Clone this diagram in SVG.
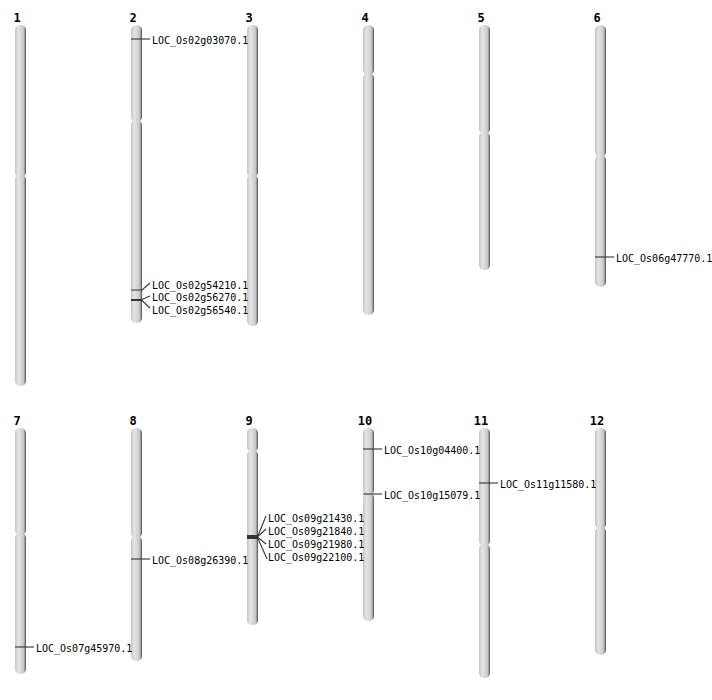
<svg xmlns="http://www.w3.org/2000/svg" width="712" height="700" viewBox="0 0 712 700">
<defs>
<linearGradient id="chr" x1="0" y1="0" x2="1" y2="0">
<stop offset="0" stop-color="#c4c4c4"/>
<stop offset="0.3" stop-color="#e4e4e4"/>
<stop offset="0.65" stop-color="#d2d2d2"/>
<stop offset="0.82" stop-color="#bdbdbd"/>
<stop offset="0.92" stop-color="#7a7a7a"/>
<stop offset="1" stop-color="#4a4a4a"/>
</linearGradient>
</defs>
<style>
.arm{fill:url(#chr)}
.num{font-family:"DejaVu Sans Mono","Liberation Mono",monospace;font-weight:bold;font-size:12px;fill:#000;text-anchor:middle}
.gene{font-family:"DejaVu Sans Mono","Liberation Mono",monospace;font-size:10px;fill:#000}
.lk{stroke:#333;stroke-width:1.1;fill:none}
</style>
<rect width="712" height="700" fill="#fff"/>
<g id="chr1"><text class="num" x="17" y="22">1</text><rect class="arm" x="15" y="25" width="11" height="152" rx="5" ry="5"/><rect class="arm" x="15" y="175" width="11" height="211" rx="5" ry="5"/></g>
<g id="chr2"><text class="num" x="133" y="22">2</text><rect class="arm" x="131" y="25" width="11" height="97" rx="5" ry="5"/><rect class="arm" x="131" y="120" width="11" height="203" rx="5" ry="5"/></g>
<g id="chr3"><text class="num" x="249" y="22">3</text><rect class="arm" x="247" y="25" width="11" height="152" rx="5" ry="5"/><rect class="arm" x="247" y="175" width="11" height="151" rx="5" ry="5"/></g>
<g id="chr4"><text class="num" x="365" y="22">4</text><rect class="arm" x="363" y="25" width="11" height="50" rx="5" ry="5"/><rect class="arm" x="363" y="73" width="11" height="242" rx="5" ry="5"/></g>
<g id="chr5"><text class="num" x="481" y="22">5</text><rect class="arm" x="479" y="25" width="11" height="109" rx="5" ry="5"/><rect class="arm" x="479" y="132" width="11" height="138" rx="5" ry="5"/></g>
<g id="chr6"><text class="num" x="597" y="22">6</text><rect class="arm" x="595" y="25" width="11" height="132" rx="5" ry="5"/><rect class="arm" x="595" y="155" width="11" height="132" rx="5" ry="5"/></g>
<g id="chr7"><text class="num" x="17" y="425">7</text><rect class="arm" x="15" y="428" width="11" height="107" rx="5" ry="5"/><rect class="arm" x="15" y="533" width="11" height="141" rx="5" ry="5"/></g>
<g id="chr8"><text class="num" x="133" y="425">8</text><rect class="arm" x="131" y="428" width="11" height="110" rx="5" ry="5"/><rect class="arm" x="131" y="536" width="11" height="125" rx="5" ry="5"/></g>
<g id="chr9"><text class="num" x="249" y="425">9</text><rect class="arm" x="247" y="428" width="11" height="24" rx="5" ry="5"/><rect class="arm" x="247" y="450" width="11" height="175" rx="5" ry="5"/></g>
<g id="chr10"><text class="num" x="365" y="425">10</text><rect class="arm" x="363" y="428" width="11" height="67" rx="5" ry="5"/><rect class="arm" x="363" y="493" width="11" height="128" rx="5" ry="5"/></g>
<g id="chr11"><text class="num" x="481" y="425">11</text><rect class="arm" x="479" y="428" width="11" height="118" rx="5" ry="5"/><rect class="arm" x="479" y="544" width="11" height="134" rx="5" ry="5"/></g>
<g id="chr12"><text class="num" x="597" y="425">12</text><rect class="arm" x="595" y="428" width="11" height="101" rx="5" ry="5"/><rect class="arm" x="595" y="527" width="11" height="128" rx="5" ry="5"/></g>
<g id="connectors">
<path class="lk" d="M131,39H150"/>
<path class="lk" d="M131,290H142L150,283"/>
<path class="lk" d="M131,299.5H142L150,296"/>
<path class="lk" d="M131,300.5H142L150,308"/>
<path class="lk" d="M595,257H614"/>
<path class="lk" d="M15,647H34"/>
<path class="lk" d="M131,559H150"/>
<path class="lk" d="M247,535.5H258L266,516"/>
<path class="lk" d="M247,536.5H258L266,529"/>
<path class="lk" d="M247,537.5H258L266,544"/>
<path class="lk" d="M247,538.5H258L267,559"/>
<path class="lk" d="M363,449H382"/>
<path class="lk" d="M363,494H382"/>
<path class="lk" d="M479,483H498"/>
</g>
<g id="genes">
<text class="gene" x="152" y="43.5">LOC_Os02g03070.1</text>
<text class="gene" x="152" y="288.5">LOC_Os02g54210.1</text>
<text class="gene" x="152" y="301">LOC_Os02g56270.1</text>
<text class="gene" x="152" y="313.5">LOC_Os02g56540.1</text>
<text class="gene" x="616" y="261.5">LOC_Os06g47770.1</text>
<text class="gene" x="36" y="651.5">LOC_Os07g45970.1</text>
<text class="gene" x="152" y="563.5">LOC_Os08g26390.1</text>
<text class="gene" x="268" y="521.5">LOC_Os09g21430.1</text>
<text class="gene" x="268" y="534.5">LOC_Os09g21840.1</text>
<text class="gene" x="268" y="547.5">LOC_Os09g21980.1</text>
<text class="gene" x="268" y="560.5">LOC_Os09g22100.1</text>
<text class="gene" x="384" y="453.5">LOC_Os10g04400.1</text>
<text class="gene" x="384" y="498.5">LOC_Os10g15079.1</text>
<text class="gene" x="500" y="487.5">LOC_Os11g11580.1</text>
</g>
</svg>
